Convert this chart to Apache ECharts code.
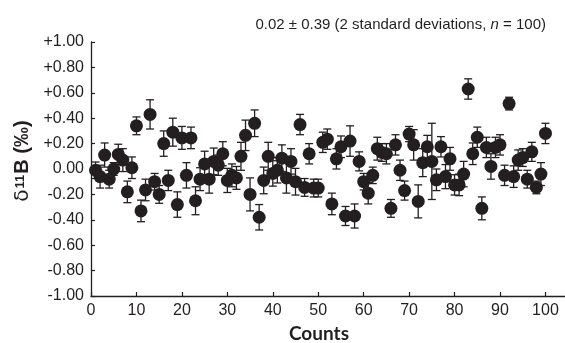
<!DOCTYPE html>
<html>
<head>
<meta charset="utf-8">
<script src="https://cdn.jsdelivr.net/npm/echarts@6/dist/echarts.min.js"></script>
<style>
  html, body { margin: 0; padding: 0; background: #fff; }
  #chart { width: 565px; height: 343px; }
</style>
</head>
<body>
<div id="chart"></div>
<script>
// δ11B 每次测量值 (‰), 按测量序号 1..100
var delta = [
  -0.01, -0.06, 0.11, -0.08, 0.00, 0.115, 0.07, -0.18, 0.01, 0.34,
  -0.33, -0.165, 0.43, -0.10, -0.20, 0.20, -0.09, 0.29, -0.28, 0.245,
  -0.05, 0.245, -0.25, -0.08, 0.04, -0.08, 0.06, 0.03, 0.12, -0.09,
  -0.05, -0.07, 0.10, 0.265, -0.20, 0.36, -0.38, -0.09, 0.10, -0.035,
  -0.01, 0.085, -0.07, 0.06, -0.10, 0.35, -0.145, 0.12, -0.15, -0.15,
  0.21, 0.235, -0.275, 0.08, 0.175, -0.37, 0.22, -0.37, 0.06, -0.10,
  -0.19, -0.05, 0.16, 0.13, 0.12, -0.31, 0.19, -0.01, -0.17, 0.275,
  0.19, -0.255, 0.05, 0.175, 0.06, -0.085, 0.175, -0.06, 0.08, -0.125,
  -0.125, -0.04, 0.63, 0.12, 0.25, -0.31, 0.17, 0.02, 0.17, 0.19,
  -0.05, 0.515, -0.06, 0.07, 0.09, -0.08, 0.135, -0.145, -0.04, 0.28
];
// 误差 (±)
var errors = [
  0.065, 0.09, 0.095, 0.07, 0.05, 0.08, 0.09, 0.085, 0.085, 0.07,
  0.085, 0.085, 0.115, 0.065, 0.07, 0.10, 0.08, 0.11, 0.10, 0.09,
  0.10, 0.085, 0.11, 0.09, 0.10, 0.11, 0.105, 0.08, 0.095, 0.095,
  0.09, 0.09, 0.11, 0.12, 0.13, 0.105, 0.10, 0.105, 0.11, 0.10,
  0.10, 0.105, 0.12, 0.10, 0.105, 0.08, 0.07, 0.08, 0.07, 0.07,
  0.08, 0.08, 0.085, 0.08, 0.085, 0.075, 0.12, 0.095, 0.075, 0.065,
  0.085, 0.065, 0.09, 0.07, 0.08, 0.07, 0.08, 0.08, 0.075, 0.06,
  0.12, 0.13, 0.11, 0.09, 0.30, 0.085, 0.08, 0.095, 0.09, 0.08,
  0.085, 0.10, 0.08, 0.085, 0.08, 0.09, 0.08, 0.10, 0.08, 0.08,
  0.08, 0.05, 0.085, 0.08, 0.07, 0.07, 0.075, 0.05, 0.09, 0.08
];
var xTicks = [0, 10, 20, 30, 40, 50, 60, 70, 80, 90, 100];
var yTicks = [-1.0, -0.8, -0.6, -0.4, -0.2, 0, 0.2, 0.4, 0.6, 0.8, 1.0];

var ink = '#231f20';
var font = '"Liberation Sans", Arial, sans-serif';

var points = delta.map(function (v, i) { return [i + 1, v]; });
var bars = delta.map(function (v, i) { return [i + 1, v, errors[i]]; });

var myChart = echarts.init(document.getElementById('chart'), null, { renderer: 'canvas' });

myChart.setOption({
  animation: false,
  title: {
    text: '0.02 ± 0.39 (2 standard deviations, {i|n} = 100)',
    right: 14,
    top: 12,
    textStyle: {
      fontFamily: font,
      fontSize: 15,
      fontWeight: 'normal',
      color: ink,
      rich: {
        i: { fontFamily: font, fontSize: 15, fontStyle: 'italic', color: ink }
      }
    }
  },
  grid: {
    left: 91,
    right: 0,
    top: 42,
    bottom: 47,
    containLabel: false,
    outerBoundsMode: 'none'
  },
  xAxis: {
    type: 'value',
    min: 0,
    max: 104.3,
    interval: 10,
    name: 'Counts',
    nameLocation: 'middle',
    nameGap: 27,
    nameTextStyle: {
      fontFamily: 'Lato, "DejaVu Sans", sans-serif',
      fontWeight: 'bold',
      fontSize: 19,
      color: ink,
      padding: [0, 18, 0, 0]
    },
    axisLine: { onZero: false, lineStyle: { color: ink, width: 1.3 } },
    axisTick: { inside: true, length: 4, lineStyle: { color: ink, width: 1.2 } },
    axisLabel: {
      fontFamily: font,
      fontSize: 16,
      color: ink,
      margin: 7,
      showMaxLabel: false,
      formatter: function (v) {
        return xTicks.indexOf(v) >= 0 ? String(v) : '';
      }
    },
    splitLine: { show: false }
  },
  yAxis: {
    type: 'value',
    min: -1,
    max: 1,
    interval: 0.2,
    name: '{d|δ}{s|11}{b|B (‰)}',
    nameLocation: 'middle',
    nameRotate: 90,
    nameGap: 56,
    nameTextStyle: {
      padding: [0, 0, 0, 16],
      rich: {
        d: { fontFamily: 'DejaVu Sans, sans-serif', fontSize: 20, color: ink },
        s: { fontFamily: font, fontSize: 13, fontWeight: 'bold', color: ink, verticalAlign: 'top', padding: [1, 1, 0, 1] },
        b: { fontFamily: font, fontSize: 20, fontWeight: 'bold', color: ink }
      }
    },
    axisLine: { onZero: false, lineStyle: { color: ink, width: 1.3 } },
    axisTick: { inside: true, length: 4, lineStyle: { color: ink, width: 1.2 } },
    axisLabel: {
      fontFamily: font,
      fontSize: 16,
      color: ink,
      margin: 7,
      formatter: function (v) {
        var r = Math.round(v * 100) / 100;
        if (yTicks.indexOf(r) < 0) return '';
        if (r > 0) return '+' + r.toFixed(2);
        if (r === 0) return '0.00';
        return r.toFixed(2);
      }
    },
    splitLine: { show: false }
  },
  series: [
    {
      // 误差棒
      type: 'custom',
      data: bars,
      renderItem: function (params, api) {
        var x = api.value(0);
        var y = api.value(1);
        var e = api.value(2);
        var top = api.coord([x, y + e]);
        var bot = api.coord([x, y - e]);
        var half = 4;
        var style = { stroke: ink, lineWidth: 1.3 };
        return {
          type: 'group',
          children: [
            { type: 'line', shape: { x1: top[0], y1: top[1], x2: bot[0], y2: bot[1] }, style: style },
            { type: 'line', shape: { x1: top[0] - half, y1: top[1], x2: top[0] + half, y2: top[1] }, style: style },
            { type: 'line', shape: { x1: bot[0] - half, y1: bot[1], x2: bot[0] + half, y2: bot[1] }, style: style }
          ]
        };
      },
      z: 2
    },
    {
      type: 'scatter',
      data: points,
      symbol: 'circle',
      symbolSize: 13,
      itemStyle: { color: ink, opacity: 1 },
      z: 3
    }
  ]
});
</script>
</body>
</html>
